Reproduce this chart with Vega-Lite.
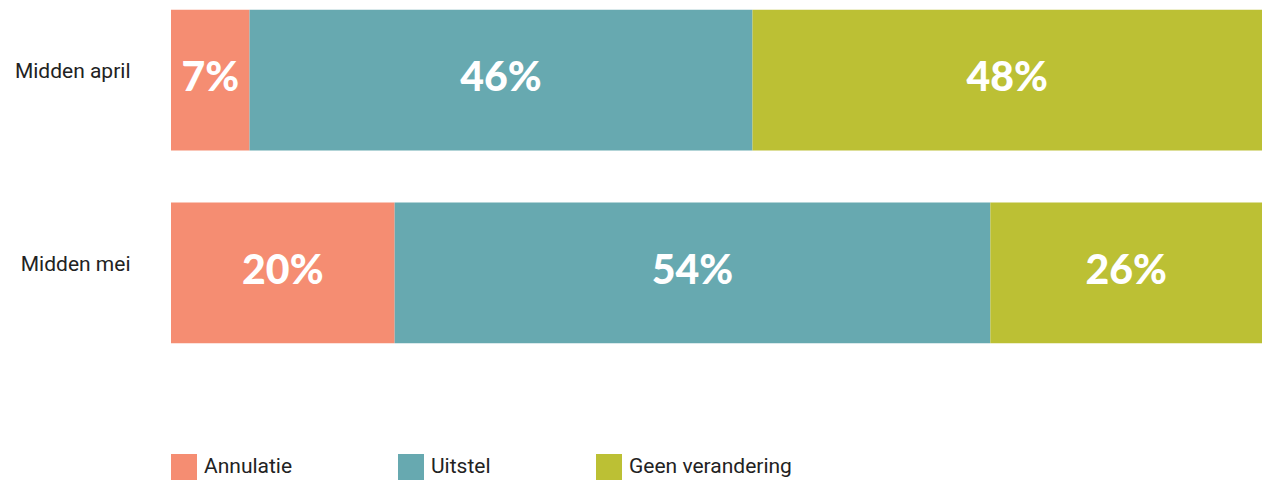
{
  "$schema": "https://vega.github.io/schema/vega-lite/v6.json",
  "autosize": "none",
  "width": 1091,
  "height": 353,
  "padding": {"left": 171, "top": 0, "right": 0, "bottom": 127},
  "background": "white",
  "config": {"view": {"stroke": null}},
  "data": {
    "values": [
      {"period": "Midden april", "category": "Annulatie", "order": 1, "value": 7.2, "label": "7%"},
      {"period": "Midden april", "category": "Uitstel", "order": 2, "value": 46.1, "label": "46%"},
      {"period": "Midden april", "category": "Geen verandering", "order": 3, "value": 46.7, "label": "48%"},
      {"period": "Midden mei", "category": "Annulatie", "order": 1, "value": 20.5, "label": "20%"},
      {"period": "Midden mei", "category": "Uitstel", "order": 2, "value": 54.6, "label": "54%"},
      {"period": "Midden mei", "category": "Geen verandering", "order": 3, "value": 24.9, "label": "26%"}
    ]
  },
  "transform": [
    {"stack": "value", "groupby": ["period"], "sort": [{"field": "order", "order": "ascending"}], "offset": "normalize", "as": ["x0", "x1"]},
    {"calculate": "(datum.x0 + datum.x1) / 2", "as": "xmid"}
  ],
  "encoding": {
    "y": {
      "field": "period",
      "type": "nominal",
      "sort": ["Midden april", "Midden mei"],
      "scale": {"paddingInner": 0.27, "paddingOuter": 0.05},
      "axis": {
        "title": null,
        "ticks": false,
        "domain": false,
        "labelPadding": 41,
        "labelOffset": -8,
        "labelFont": "Roboto",
        "labelFontSize": 21,
        "labelColor": "#222222",
        "labelFontWeight": "normal"
      }
    }
  },
  "layer": [
    {
      "mark": {"type": "bar", "cornerRadius": 0},
      "encoding": {
        "x": {"field": "x0", "type": "quantitative", "scale": {"domain": [0, 1], "nice": false}, "axis": null},
        "x2": {"field": "x1"},
        "color": {
          "field": "category",
          "type": "nominal",
          "scale": {
            "domain": ["Annulatie", "Uitstel", "Geen verandering"],
            "range": ["#F58D72", "#67A9B0", "#BCC034"]
          },
          "legend": {
            "title": null,
            "orient": "none",
            "legendX": 0,
            "legendY": 454,
            "direction": "horizontal",
            "symbolType": "square",
            "symbolSize": 676,
            "symbolStrokeWidth": 0,
            "labelFont": "Roboto",
            "labelFontSize": 21,
            "labelColor": "#222222",
            "labelOffset": 7,
            "labelLimit": 400,
            "columnPadding": 105
          }
        }
      }
    },
    {
      "mark": {"type": "text", "color": "white", "font": "Lato", "fontWeight": 900, "fontSize": 41, "baseline": "middle", "align": "center", "dy": -1},
      "encoding": {
        "x": {"field": "xmid", "type": "quantitative", "scale": {"domain": [0, 1], "nice": false}},
        "text": {"field": "label"}
      }
    }
  ]
}
